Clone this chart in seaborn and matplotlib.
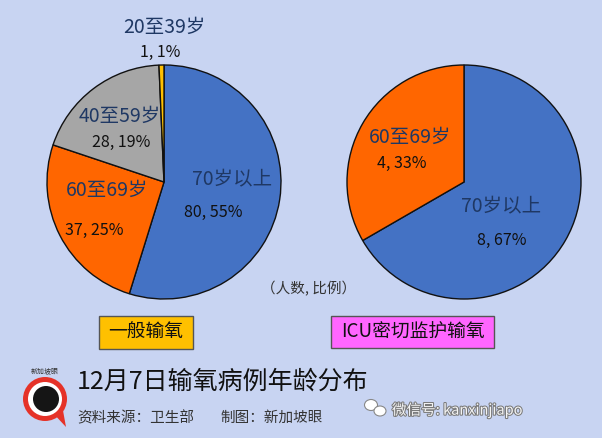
import matplotlib
matplotlib.use("Agg")
import matplotlib.pyplot as plt
import matplotlib.patheffects as pe
from matplotlib.patches import Circle, Rectangle, Polygon, Ellipse
import seaborn as sns

# ---------------- data ----------------
general_categories = ['70岁以上', '60至69岁', '40至59岁', '20至39岁']
general_counts = [80, 37, 28, 1]
general_pcts = [55, 25, 19, 1]

icu_categories = ['70岁以上', '60至69岁']
icu_counts = [8, 4]
icu_pcts = [67, 33]

panel_titles = ['一般输氧', 'ICU密切监护输氧']
title = '12月7日输氧病例年龄分布'
unit_note = '（人数, 比例）'
source_text = '资料来源：卫生部'
credit_text = '制图：新加坡眼'
wechat_text = '微信号: kanxinjiapo'

# ---------------- style ----------------
sns.set_theme(style='white')
plt.rcParams['font.family'] = ['Noto Sans CJK SC', 'DejaVu Sans']

cat_colors = {'70岁以上': '#4472C4', '60至69岁': '#FF6600',
              '40至59岁': '#A6A6A6', '20至39岁': '#FFC000'}
bg = '#C8D4F2'
navy = '#1F3864'

W, H = 602, 438
fig = plt.figure(figsize=(W / 100, H / 100), dpi=100, facecolor=bg)

# overlay axes in pixel coordinates
ov = fig.add_axes([0, 0, 1, 1])
ov.set_xlim(0, W)
ov.set_ylim(H, 0)
ov.axis('off')
ov.set_facecolor('none')
ov.set_zorder(0)

R = 117
LIM = 1.25


def pie_axes(cx, cy):
    half = R * LIM
    return fig.add_axes([(cx - half) / W, (H - cy - half) / H, 2 * half / W, 2 * half / H])


# label layout (offsets in pie radius units): category label, value label
general_layout = [((0.58, 0.02), (0.42, -0.26)),
                  ((-0.49, -0.07), (-0.60, -0.41)),
                  ((-0.38, 0.56), (-0.37, 0.34)),
                  ((0.0, 1.32), (-0.03, 1.11))]
icu_layout = [((0.32, -0.21), (0.32, -0.50)),
              ((-0.46, 0.38), (-0.53, 0.16))]


def draw_pie(cx, cy, cats, counts, pcts, layout):
    ax = pie_axes(cx, cy)
    ax.set_zorder(1)
    ax.pie(counts, colors=[cat_colors[c] for c in cats], startangle=90,
           counterclock=False, radius=1,
           wedgeprops=dict(edgecolor='#111111', linewidth=1.0))
    ax.set_xlim(-LIM, LIM)
    ax.set_ylim(-LIM, LIM)
    ax.set_aspect('equal')
    ax.axis('off')
    for cat, n, p, ((lx, ly), (vx, vy)) in zip(cats, counts, pcts, layout):
        ax.text(lx, ly, cat, ha='center', va='center', fontsize=14, color=navy)
        ax.text(vx, vy, f'{n}, {p}%', ha='center', va='center', fontsize=11.5, color='#111111')


draw_pie(164, 182, general_categories, general_counts, general_pcts, general_layout)
draw_pie(464, 182, icu_categories, icu_counts, icu_pcts, icu_layout)

ov.text(309, 289, unit_note, ha='center', va='center', fontsize=10.5, color='#333333')

# panel title boxes
boxes = [((99, 316, 94, 33), '#FFC000', panel_titles[0]),
         ((331, 316, 163, 32), '#FF66FF', panel_titles[1])]
for (x, y, w, h), col, txt in boxes:
    ov.add_patch(Rectangle((x, y), w, h, facecolor=col, edgecolor='#555555', linewidth=1.0))
    ov.text(x + w / 2, y + h / 2, txt, ha='center', va='center', fontsize=13.5, color='#111111')

# title and footer
ov.text(77, 382, title, ha='left', va='center', fontsize=18, color='#111111')
ov.text(77, 418, source_text, ha='left', va='center', fontsize=10.5, color='#333333')
ov.text(220, 418, credit_text, ha='left', va='center', fontsize=10.5, color='#333333')

# logo
ov.add_patch(Polygon([[52, 412], [66, 427], [62, 405]], closed=True, facecolor='#E53228', edgecolor='none'))
ov.add_patch(Circle((45, 399), 22, facecolor='#E53228', edgecolor='none'))
ov.add_patch(Circle((45, 399), 17, facecolor='white', edgecolor='none'))
ov.add_patch(Circle((46, 399), 13, facecolor='#151515', edgecolor='none'))
ov.text(45, 371, '新加坡眼', ha='center', va='center', fontsize=5, color='#333333')

# wechat mark
ov.add_patch(Ellipse((371, 405), 13, 11, facecolor='white', edgecolor='#888888', linewidth=0.8))
ov.add_patch(Ellipse((380, 411), 12, 10, facecolor='white', edgecolor='#888888', linewidth=0.8))
ov.text(392, 410, wechat_text, ha='left', va='center', fontsize=10.5, color='#F4F4F4',
        path_effects=[pe.withStroke(linewidth=1.5, foreground='#7A7A7A')])

fig.savefig('out.png', dpi=100, facecolor=bg)
